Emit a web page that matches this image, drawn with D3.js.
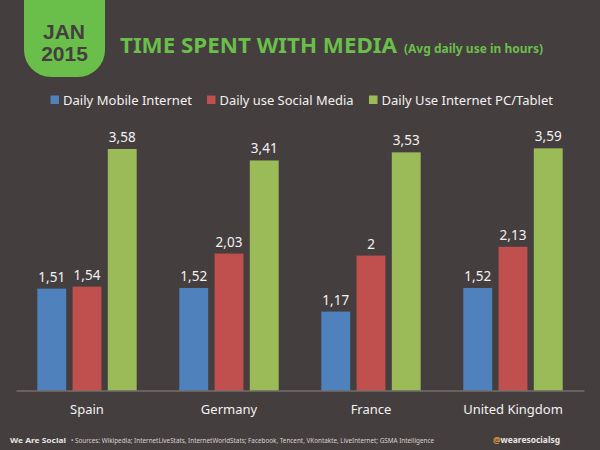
<!DOCTYPE html>
<html>
<head>
<meta charset="utf-8">
<script src="https://cdn.jsdelivr.net/npm/d3@7"></script>
<style>
  html, body { margin: 0; padding: 0; background: #453e3e; }
  svg { display: block; }
  text { font-family: "Noto Sans", sans-serif; }
</style>
</head>
<body>
<div id="view"></div>
<script>
var countries = ["Spain", "Germany", "France", "United Kingdom"];
var seriesNames = ["Daily Mobile Internet", "Daily use Social Media", "Daily Use Internet PC/Tablet"];
var mobile = [1.51, 1.52, 1.17, 1.52];
var social = [1.54, 2.03, 2, 2.13];
var pcTablet = [3.58, 3.41, 3.53, 3.59];
var seriesValues = [mobile, social, pcTablet];
var seriesColors = ["#4f81bd", "#c0504d", "#9bbb59"];

var width = 600, height = 450;
var baseline = 390.5, green = "#6abf4b";

var svg = d3.select("#view").append("svg")
    .attr("width", width)
    .attr("height", height);

svg.append("rect")
    .attr("width", width)
    .attr("height", height)
    .attr("fill", "#453e3e");

// month badge, square at the top, round at the bottom
svg.append("path")
    .attr("d", "M24,0H105V50A27,27 0 0 1 78,77H51A27,27 0 0 1 24,50Z")
    .attr("fill", green);

var badge = svg.append("g")
    .attr("text-anchor", "middle")
    .attr("fill", "#453e3e")
    .attr("font-weight", "bold")
    .attr("font-size", 21)
    .style("font-family", "'Liberation Sans', sans-serif");
badge.append("text").attr("x", 64).attr("y", 39).style("font-family", "inherit").text("JAN");
badge.append("text").attr("x", 64.5).attr("y", 60.5).style("font-family", "inherit").text("2015");

svg.append("text")
    .attr("x", 120)
    .attr("y", 52.5)
    .attr("fill", green)
    .attr("font-weight", "bold")
    .attr("font-size", 22)
    .attr("textLength", 277)
    .attr("lengthAdjust", "spacingAndGlyphs")
    .text("TIME SPENT WITH MEDIA");

svg.append("text")
    .attr("x", 404)
    .attr("y", 53)
    .attr("fill", green)
    .attr("font-weight", "bold")
    .attr("font-size", 12.5)
    .attr("textLength", 139)
    .attr("lengthAdjust", "spacingAndGlyphs")
    .text("(Avg daily use in hours)");

var x0 = d3.scaleBand()
    .domain(countries)
    .range([16, 584])
    .paddingInner(0.3)
    .paddingOuter(0.15);

var x1 = d3.scaleBand()
    .domain(d3.range(seriesNames.length))
    .range([0, x0.bandwidth()])
    .paddingInner(0.18);

var y = d3.scaleLinear()
    .domain([0, 3.58])
    .range([baseline, 149]);

// legend
var legendX = [50.5, 207, 369];
var legendW = [142, 147, 184.5];
var legend = svg.append("g")
    .selectAll("g")
    .data(seriesNames)
    .enter().append("g")
    .attr("transform", function(d, i) { return "translate(" + legendX[i] + ",95.5)"; });

legend.append("rect")
    .attr("width", 8.5)
    .attr("height", 8.5)
    .attr("fill", function(d, i) { return seriesColors[i]; });

legend.append("text")
    .attr("x", 12.5)
    .attr("y", 9.5)
    .attr("fill", "#f2f2f2")
    .attr("font-size", 13)
    .attr("textLength", function(d, i) { return legendW[i] - 13; })
    .attr("lengthAdjust", "spacingAndGlyphs")
    .text(function(d) { return d; });

// bars
var groups = svg.append("g")
    .selectAll("g")
    .data(countries)
    .enter().append("g")
    .attr("transform", function(d) { return "translate(" + x0(d) + ",0)"; });

var cells = groups.selectAll("g")
    .data(function(d, c) {
        return seriesValues.map(function(s, i) { return {series: i, value: s[c]}; });
    })
    .enter().append("g");

cells.append("rect")
    .attr("x", function(d) { return x1(d.series); })
    .attr("y", function(d) { return y(d.value); })
    .attr("width", x1.bandwidth())
    .attr("height", function(d) { return baseline - y(d.value); })
    .attr("fill", function(d) { return seriesColors[d.series]; });

cells.append("text")
    .attr("x", function(d) { return x1(d.series) + x1.bandwidth() / 2; })
    .attr("y", function(d) { return y(d.value) - 7; })
    .attr("text-anchor", "middle")
    .attr("fill", "#f2f2f2")
    .attr("font-size", 13.5)
    .text(function(d) { return String(d.value).replace(".", ","); });

// category axis
var axis = svg.append("g")
    .attr("transform", "translate(0," + baseline + ")")
    .call(d3.axisBottom(x0).tickSize(0).tickPadding(14));

axis.select(".domain").attr("stroke", "#8a8380");
axis.selectAll("text")
    .attr("fill", "#f2f2f2")
    .attr("font-size", 13)
    .style("font-family", "'Noto Sans', sans-serif");

// footer
svg.append("text")
    .attr("x", 10)
    .attr("y", 443)
    .attr("fill", "#e6e6e6")
    .attr("font-weight", "bold")
    .attr("font-size", 7.5)
    .attr("textLength", 56)
    .attr("lengthAdjust", "spacingAndGlyphs")
    .text("We Are Social");

svg.append("text")
    .attr("x", 71)
    .attr("y", 443)
    .attr("fill", "#d6d2d0")
    .attr("font-size", 6.5)
    .attr("textLength", 363)
    .attr("lengthAdjust", "spacingAndGlyphs")
    .text("\u2022  Sources: Wikipedia; InternetLiveStats, InternetWorldStats; Facebook, Tencent, VKontakte, LiveInternet; GSMA Intelligence");

var handle = svg.append("text")
    .attr("x", 493)
    .attr("y", 443)
    .attr("fill", "#e6e6e6")
    .attr("font-weight", "bold")
    .attr("font-size", 8)
    .attr("textLength", 67)
    .attr("lengthAdjust", "spacingAndGlyphs");
handle.append("tspan").attr("fill", "#d9983a").text("@");
handle.append("tspan").text("wearesocialsg");
</script>
</body>
</html>
